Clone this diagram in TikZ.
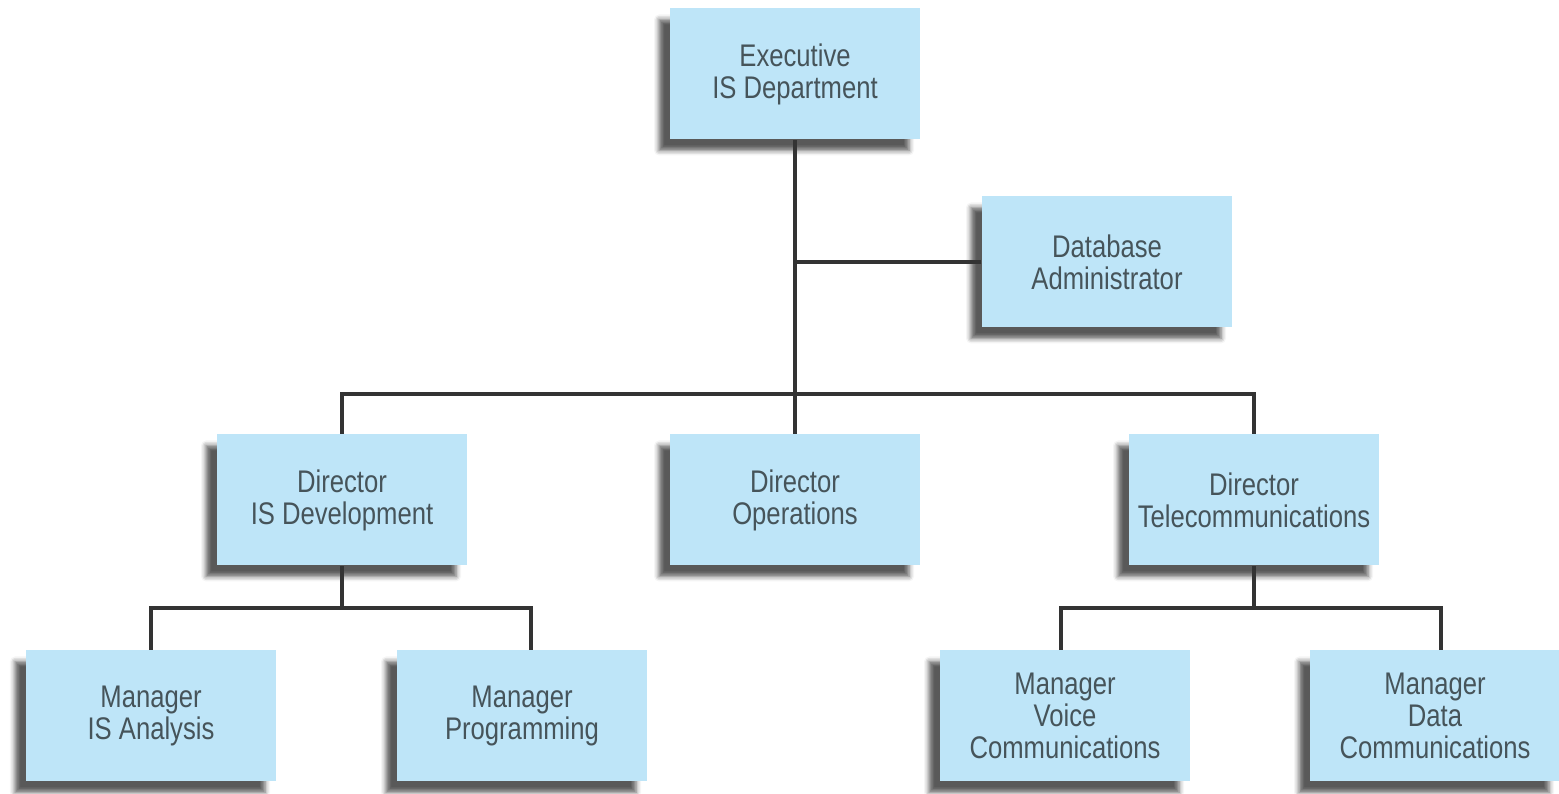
\documentclass[tikz,border=0pt]{standalone}
\usepackage{fontspec}
\setmainfont{Liberation Sans}[FakeStretch=0.82]
\usetikzlibrary{shadows.blur}
\definecolor{boxblue}{HTML}{BEE5F8}
\definecolor{boxtext}{HTML}{46545A}
\definecolor{wire}{HTML}{333333}

\begin{document}
\begin{tikzpicture}[
        post/.style={rectangle, fill=boxblue, minimum width=2.5cm, minimum height=1.31cm,
            inner xsep=1pt, align=center, text=boxtext, font=\fontsize{8.9}{9.1}\selectfont,
            blur shadow={shadow xshift=-0.11cm, shadow yshift=-0.11cm,
                shadow blur radius=0.05cm, shadow opacity=65}},
        link/.style={draw=wire, line width=1.1pt}
    ]
        \useasboundingbox (0,0) rectangle (15.59,7.94);
        \node[post] (exec) at (7.95,7.20) {Executive\\IS Department};
        \node[post] (dba) at (11.07,5.32) {Database\\Administrator};
        \node[post] (dev) at (3.42,2.94) {Director\\IS Development};
        \node[post] (ops) at (7.95,2.94) {Director\\Operations};
        \node[post] (tel) at (12.54,2.94) {Director\\Telecommunications};
        \node[post] (ana) at (1.51,0.78) {Manager\\IS Analysis};
        \node[post] (prog) at (5.22,0.78) {Manager\\Programming};
        \node[post] (voice) at (10.65,0.78) {Manager\\Voice\\Communications};
        \node[post] (data) at (14.35,0.78) {Manager\\Data\\Communications};
        \path (exec.south) ++(0,-2.54) coordinate (hub);
        \path (dev.south) ++(0,-0.42) coordinate (devhub);
        \path (tel.south) ++(0,-0.42) coordinate (telhub);
        \draw[link] (exec.south) -- (hub);
        \draw[link] (dba.west) -- (dba.west -| hub);
        \draw[link] (hub) -| (dev.north);
        \draw[link] (hub) -| (tel.north);
        \draw[link] (hub) -- (ops.north);
        \draw[link] (dev.south) -- (devhub);
        \draw[link] (devhub) -| (ana.north);
        \draw[link] (devhub) -| ([xshift=0.09cm]prog.north);
        \draw[link] (tel.south) -- (telhub);
        \draw[link] (telhub) -| ([xshift=-0.04cm]voice.north);
        \draw[link] (telhub) -| ([xshift=0.06cm]data.north);
    \end{tikzpicture}
\end{document}
